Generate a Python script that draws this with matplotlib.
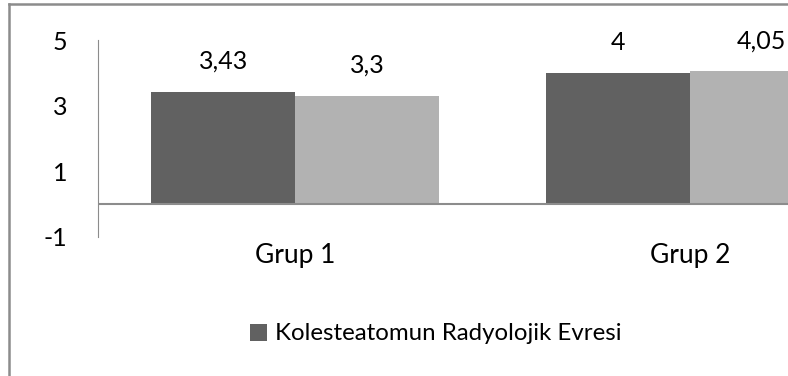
import matplotlib.pyplot as plt
from matplotlib.lines import Line2D

# data
groups = ['Grup 1', 'Grup 2']
dark_vals = [3.43, 4]
light_vals = [3.3, 4.05]
dark_labels = ['3,43', '4']
light_labels = ['3,3', '4,05']
yticks = [-1, 1, 3, 5]
legend_label = 'Kolesteatomun Radyolojik Evresi'

plt.rcParams['font.family'] = ['Lato', 'DejaVu Sans']

W, H = 788, 376
fig = plt.figure(figsize=(W / 100, H / 100), dpi=100)

# axes runs past the right edge (original chart was cropped)
x0, x1 = 98, 887
ytop, ybot = 40, 237
ax = fig.add_axes([x0 / W, 1 - ybot / H, (x1 - x0) / W, (ybot - ytop) / H])

bw = 144 / 394
xs = list(range(len(groups)))
b1 = ax.bar([x - bw / 2 for x in xs], dark_vals, bw, color='#616161', label=legend_label)
b2 = ax.bar([x + bw / 2 for x in xs], light_vals, bw, color='#b2b2b2')

for bars, labs in ((b1, dark_labels), (b2, light_labels)):
    for r, t in zip(bars, labs):
        ax.annotate(t, (r.get_x() + r.get_width() / 2, r.get_height()),
                    xytext=(0, 22), textcoords='offset points',
                    ha='center', va='center', fontsize=18)

ax.set_xlim(-0.5, 1.5)
ax.set_ylim(-1, 5)
ax.set_yticks(yticks)
ax.set_yticklabels([str(v) for v in yticks])
ax.tick_params(axis='y', length=0, pad=22, labelsize=18)
ax.tick_params(axis='x', length=0, bottom=False, labelbottom=False)

for s in ['top', 'right', 'bottom']:
    ax.spines[s].set_visible(False)
ax.spines['left'].set_color('#8c8c8c')
ax.axhline(0, color='#8c8c8c', lw=1.5)

# group labels below the plot
for x, g in zip(xs, groups):
    ax.text(x, -1.55, g, ha='center', va='center', fontsize=19)

fig.legend(handles=[b1], labels=[legend_label], loc='center',
           bbox_to_anchor=(436 / W, 1 - 334 / H), frameon=False,
           fontsize=17.3, handlelength=0.7, handleheight=0.7,
           handletextpad=0.35)

# outer chart border (left and top only, rest is cropped)
fig.add_artist(Line2D([9 / W, 9 / W], [0, 1 - 3.5 / H], color='#8c8c8c', lw=1.8))
fig.add_artist(Line2D([9 / W, 1], [1 - 3.5 / H, 1 - 3.5 / H], color='#8c8c8c', lw=1.8))

fig.savefig('out.png', dpi=100)
